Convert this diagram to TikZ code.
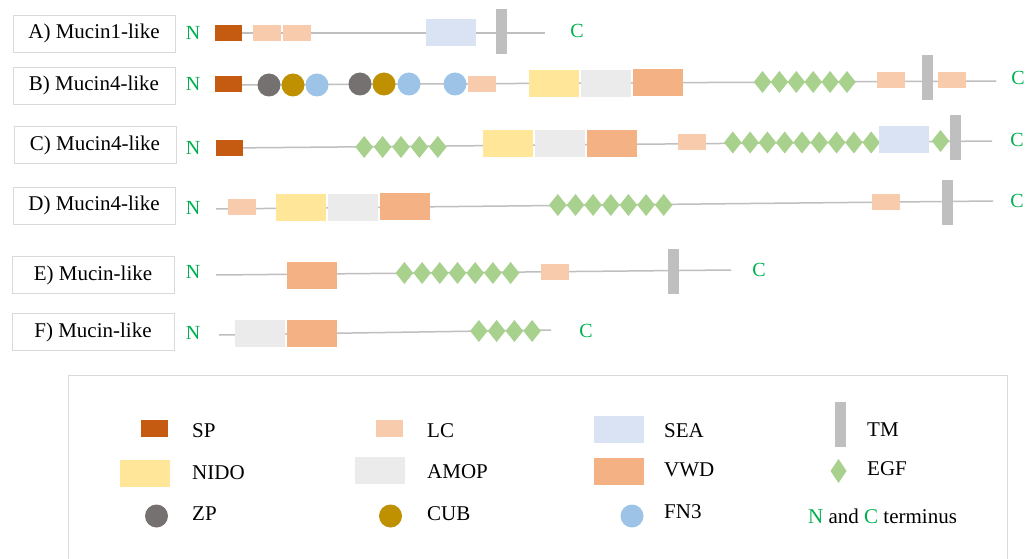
\documentclass[tikz,border=0pt]{standalone}
\usepackage{fontspec}
\setmainfont{Liberation Serif}
\usetikzlibrary{shapes.geometric}
\definecolor{spc}{HTML}{C55A11}
\definecolor{lcc}{HTML}{F8CBAD}
\definecolor{seac}{HTML}{DAE3F3}
\definecolor{tmc}{HTML}{BFBFBF}
\definecolor{nidoc}{HTML}{FFE699}
\definecolor{amopc}{HTML}{EBEBEB}
\definecolor{vwdc}{HTML}{F4B183}
\definecolor{egfc}{HTML}{A9D18E}
\definecolor{zpc}{HTML}{767171}
\definecolor{cubc}{HTML}{BF9000}
\definecolor{fnc}{HTML}{9DC3E6}
\definecolor{linec}{HTML}{BFBFBF}
\definecolor{termc}{HTML}{00B050}
\definecolor{boxc}{HTML}{D9D9D9}
\begin{document}
\begin{tikzpicture}[x=1pt,y=-1pt,
 dom/.style={rectangle, inner sep=0pt, outer sep=0pt, draw=none},
 sp/.style={dom, fill=spc, minimum width=27pt, minimum height=16pt},
 lc/.style={dom, fill=lcc, minimum width=28pt, minimum height=16pt},
 sea/.style={dom, fill=seac, minimum width=50pt, minimum height=27pt},
 tm/.style={dom, fill=tmc, minimum width=11pt, minimum height=45pt},
 nido/.style={dom, fill=nidoc, minimum width=50pt, minimum height=27pt},
 amop/.style={dom, fill=amopc, minimum width=50pt, minimum height=27pt},
 vwd/.style={dom, fill=vwdc, minimum width=50pt, minimum height=27pt},
 egf/.style={diamond, inner sep=0pt, outer sep=0pt, fill=egfc, minimum width=17.5pt, minimum height=22pt},
 ball/.style={circle, inner sep=0pt, outer sep=0pt, minimum size=23pt},
 zp/.style={ball, fill=zpc}, cub/.style={ball, fill=cubc}, fn/.style={ball, fill=fnc},
 backbone/.style={draw=linec, line width=1.5pt},
 lab/.style={draw=boxc, line width=0.8pt, fill=white, minimum width=162pt, minimum height=37pt, inner sep=0pt, font=\fontsize{21}{25}\selectfont},
 term/.style={text=termc, inner sep=0pt, font=\fontsize{20}{24}\selectfont},
 legtxt/.style={anchor=base west, inner sep=0pt, font=\fontsize{21}{25}\selectfont},
]
\useasboundingbox (0,0) rectangle (1036,559);
\fill[white] (0,0) rectangle (1036,559);

% ---------- Row A
\node[lab] (labA) at (94,33.5) {A) Mucin1-like};
\node[term] (nA) at (193,33) {N};
\node[term] (cA) at (577,31) {C};
\coordinate (sA) at (228,33);
\coordinate (eA) at (545,33);
\draw[backbone] (sA) -- (eA);
\node[sp] (a1) at (228.5,33) {};
\node[lc] (a2) at (267,33) {};
\node[lc] (a3) at (297,33) {};
\node[sea] (a4) at (451,33) {};
\node[tm] (a5) at (501,32) {};

% ---------- Row B
\node[lab] (labB) at (94,85.5) {B) Mucin4-like};
\node[term] (nB) at (193,84) {N};
\node[term] (cB) at (1018,78) {C};
\coordinate (sB) at (228,85);
\coordinate (eB) at (996,81);
\draw[backbone] (sB) -- (eB);
\node[sp] (b1) at (228,84) {};
\node[zp] (b2) at (269,85) {};
\node[cub] (b3) at (293,85) {};
\node[fn] (b4) at (317,85) {};
\node[zp] (b5) at (360,84) {};
\node[cub] (b6) at (384,84) {};
\node[fn] (b7) at (409,84) {};
\node[fn] (b8) at (455,84) {};
\node[lc] (b9) at (482,84) {};
\node[nido] (b10) at (554,84) {};
\node[amop] (b11) at (605.5,84) {};
\node[vwd] (b12) at (658,83) {};
\foreach \x [count=\i] in {762.5,779.4,796.3,813.2,830.1,847}
  \node[egf] (bE\i) at (\x,82) {};
\node[lc] (b13) at (890.5,80) {};
\node[tm] (b14) at (927,77.5) {};
\node[lc] (b15) at (951.5,80) {};

% ---------- Row C
\node[lab] (labC) at (95,145) {C) Mucin4-like};
\node[term] (nC) at (193,148) {N};
\node[term] (cC) at (1017,140) {C};
\coordinate (sC) at (229,148);
\coordinate (eC) at (992,141);
\draw[backbone] (sC) -- (eC);
\node[sp] (c1) at (229.5,148.5) {};
\foreach \x [count=\i] in {364.2,382.6,401,419.4,437.8}
  \node[egf] (cE\i) at (\x,147) {};
\node[nido] (c2) at (508,144) {};
\node[amop] (c3) at (560,144) {};
\node[vwd] (c4) at (611.5,144) {};
\node[lc] (c5) at (692,142.5) {};
\foreach \x [count=\i] in {732.8,750.1,767.4,784.7,802,819.3,836.6,853.9,871.2}
  \node[egf] (cF\i) at (\x,142.5) {};
\node[sea] (c6) at (904,140) {};
\node[egf] (c7) at (940.5,141) {};
\node[tm] (c8) at (955.5,137.5) {};

% ---------- Row D
\node[lab] (labD) at (94,205.5) {D) Mucin4-like};
\node[term] (nD) at (193,208) {N};
\node[term] (cD) at (1017,201) {C};
\coordinate (sD) at (216,209);
\coordinate (eD) at (993,201);
\draw[backbone] (sD) -- (eD);
\node[lc] (d1) at (241.5,207) {};
\node[nido] (d2) at (301,207) {};
\node[amop] (d3) at (352.5,207) {};
\node[vwd] (d4) at (404.5,206) {};
\foreach \x [count=\i] in {557.8,575.5,593.1,610.8,628.4,646.1,663.7}
  \node[egf] (dE\i) at (\x,205) {};
\node[lc] (d5) at (885.75,201.5) {};
\node[tm] (d6) at (947,202.5) {};

% ---------- Row E
\node[lab] (labE) at (93,275) {E) Mucin-like};
\node[term] (nE) at (193,272) {N};
\node[term] (cE) at (759,270) {C};
\coordinate (sE) at (216,275);
\coordinate (eE) at (731,270);
\draw[backbone] (sE) -- (eE);
\node[vwd] (e1) at (312,275) {};
\foreach \x [count=\i] in {404.4,422.1,439.8,457.5,475.2,492.9,510.6}
  \node[egf] (eF\i) at (\x,273) {};
\node[lc] (e2) at (555,272) {};
\node[tm] (e3) at (673.5,271) {};

% ---------- Row F
\node[lab] (labF) at (93,332) {F) Mucin-like};
\node[term] (nF) at (193,333) {N};
\node[term] (cF) at (586,331) {C};
\coordinate (sF) at (219,335);
\coordinate (eF) at (551,330);
\draw[backbone] (sF) -- (eF);
\node[amop] (f1) at (260,333) {};
\node[vwd] (f2) at (312,333) {};
\foreach \x [count=\i] in {478.9,496.6,514.4,532.1}
  \node[egf] (fE\i) at (\x,331) {};

% ---------- Legend
\draw[draw=boxc, line width=0.8pt] (68,565) -- (68,375) -- (1007,375) -- (1007,565);
\node[sp, minimum width=27pt, minimum height=17pt] (gSP) at (154.5,428.5) {};
\node[legtxt] (tSP) at (192,437) {SP};
\node[lc, minimum width=27pt, minimum height=17pt] (gLC) at (389.5,428.5) {};
\node[legtxt] (tLC) at (427,437) {LC};
\node[sea] (gSEA) at (619,429.5) {};
\node[legtxt] (tSEA) at (664,437) {SEA};
\node[tm] (gTM) at (840.5,424.5) {};
\node[legtxt] (tTM) at (867,436) {TM};

\node[nido] (gNIDO) at (145,473.5) {};
\node[legtxt] (tNIDO) at (192,479) {NIDO};
\node[amop] (gAMOP) at (380,470) {};
\node[legtxt] (tAMOP) at (427,478) {AMOP};
\node[vwd] (gVWD) at (619,471) {};
\node[legtxt] (tVWD) at (664,476.5) {VWD};
\node[egf, minimum width=16pt, minimum height=24pt] (gEGF) at (838.5,471) {};
\node[legtxt] (tEGF) at (867,475.5) {EGF};

\node[zp] (gZP) at (156.5,516) {};
\node[legtxt] (tZP) at (192,520) {ZP};
\node[cub] (gCUB) at (390.5,516) {};
\node[legtxt] (tCUB) at (427,520) {CUB};
\node[fn] (gFN) at (632,516) {};
\node[legtxt] (tFN) at (664,518) {FN3};
\node[legtxt] (tNC) at (808,523) {\textcolor{termc}{N} and \textcolor{termc}{C} terminus};
\end{tikzpicture}
\end{document}
